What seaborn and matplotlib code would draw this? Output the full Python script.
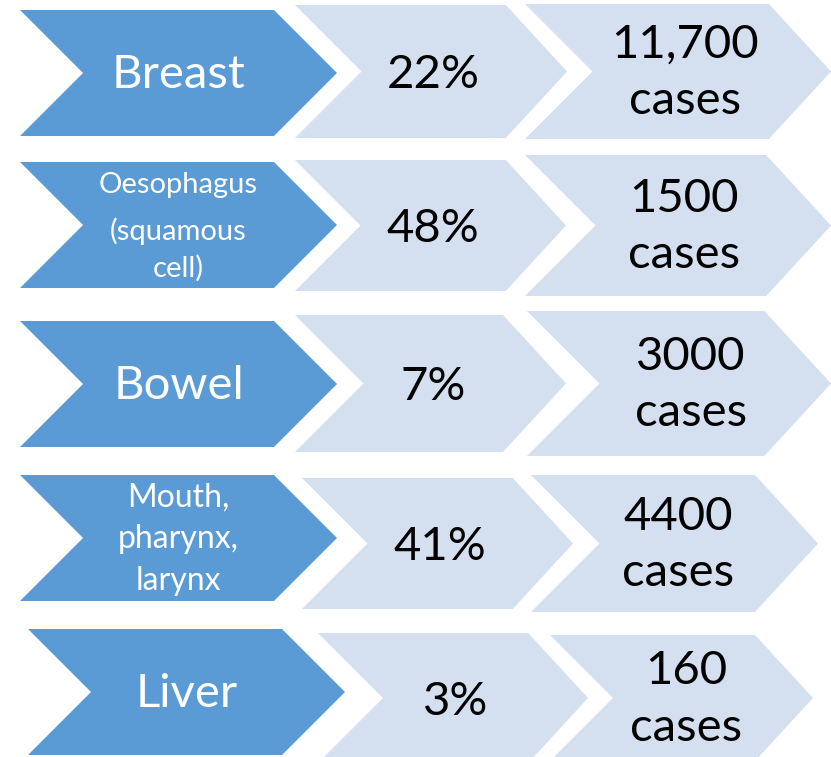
import matplotlib
matplotlib.use("Agg")
import matplotlib.pyplot as plt
from matplotlib.patches import Polygon
import seaborn as sns

# data
site_lines = [["Breast"], ["Oesophagus", "(squamous", "cell)"], ["Bowel"],
              ["Mouth,", "pharynx,", "larynx"], ["Liver"]]
percentages = [22, 48, 7, 41, 3]
case_labels = ["11,700", "1500", "3000", "4400", "160"]

# layout (pixel coords, y down)
blue_x0 = [20, 20, 20, 20, 28]
blue_top = [10, 162, 321, 475, 629]
blue_w, blue_h = 317, 126
mid_x0 = [295, 295, 295, 302, 318]
mid_x1 = [567, 566, 566, 573, 588]
mid_top = [5, 160, 315, 478, 633]
mid_bot = [138, 291, 452, 609, 763]
end_x0 = [525, 525, 527, 531, 550]
end_x1 = [831, 831, 831, 818, 813]
end_top = [4, 155, 311, 475, 635]
end_bot = [139, 296, 456, 612, 761]
case_dx = [4, 3, 9, 1, 2]
site_offsets = [[15], [-32, 15, 52], [15], [-31, 10, 52], [15]]
site_sizes = [34, 21, 34, 23, 34]

BLUE = "#5B9BD5"
LIGHT = "#D4DFEF"

sns.set_theme(style="white")
plt.rcParams['font.family'] = ['Lato', 'DejaVu Sans']


def chevron(ax, x0, x1, top, bot, dl, dr, color):
    cy = (top + bot) / 2
    pts = [(x0, top), (x1 - dr, top), (x1, cy), (x1 - dr, bot), (x0, bot), (x0 + dl, cy)]
    ax.add_patch(Polygon(pts, closed=True, facecolor=color, edgecolor="none"))
    return cy, (x0 + dl + x1 - dr) / 2


fig = plt.figure(figsize=(8.31, 7.57), dpi=100)
ax = fig.add_axes([0, 0, 1, 1])
ax.set_xlim(0, 831)
ax.set_ylim(757, 0)
ax.axis("off")

for i in range(len(percentages)):
    # blue site chevron
    d = blue_h / 2
    cy, cx = chevron(ax, blue_x0[i], blue_x0[i] + blue_w, blue_top[i],
                     blue_top[i] + blue_h, d, d, BLUE)
    for line, off in zip(site_lines[i], site_offsets[i]):
        ax.text(cx, cy + off, line, color="white", fontsize=site_sizes[i],
                ha="center", va="baseline")

    # percentage chevron
    h = mid_bot[i] - mid_top[i]
    cy, cx = chevron(ax, mid_x0[i], mid_x1[i], mid_top[i], mid_bot[i], h / 2, h * 0.46, LIGHT)
    ax.text(cx, cy + 17, f"{percentages[i]}%", color="black", fontsize=34,
            ha="center", va="baseline")

    # cases chevron
    h = end_bot[i] - end_top[i]
    cy, cx = chevron(ax, end_x0[i], end_x1[i], end_top[i], end_bot[i], h / 2, h * 0.46, LIGHT)
    cx += case_dx[i]
    ax.text(cx, cy - 14, case_labels[i], color="black", fontsize=34,
            ha="center", va="baseline")
    ax.text(cx, cy + 43, "cases", color="black", fontsize=34,
            ha="center", va="baseline")

fig.savefig("out.png", dpi=100)
